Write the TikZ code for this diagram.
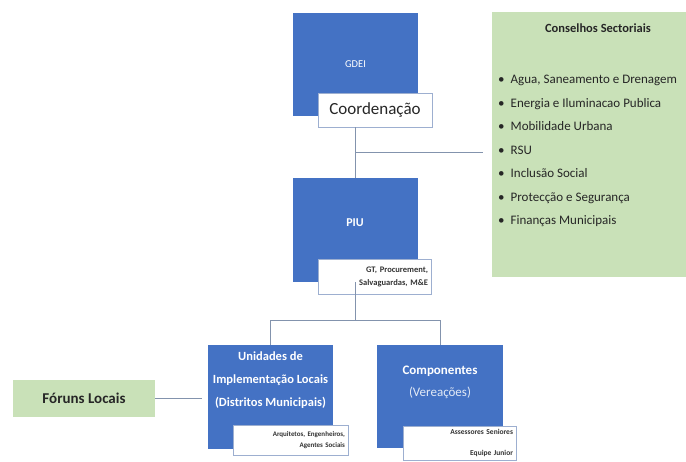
\documentclass[tikz,border=0pt]{standalone}
\usepackage{fontspec}
\setmainfont{Carlito}
\usetikzlibrary{positioning}

\definecolor{unitblue}{HTML}{4472C4}
\definecolor{forumgreen}{HTML}{C9E1B8}
\definecolor{linkgray}{HTML}{8393AD}
\definecolor{tagedge}{HTML}{9DAFD0}

\begin{document}
\begin{tikzpicture}[x=1pt,y=-1pt]
    \tikzset{
        unitbox/.style={fill=unitblue,text=white,align=center,inner sep=0pt,
            minimum width=125pt,minimum height=103pt},
        tagbox/.style={draw=tagedge,fill=white,align=right,inner sep=2pt,
            line width=0.8pt},
        greenbox/.style={fill=forumgreen,inner sep=0pt},
        link/.style={draw=linkgray,line width=1pt}
    }
    \useasboundingbox (0,0) rectangle (686,461);

    % top level
    \node[unitbox,font=\fontsize{10.5}{12}\selectfont] (gdei) at (355.5,64) {GDEI};
    \node[tagbox,align=center,minimum width=114pt,minimum height=34pt,
        font=\fontsize{17}{20}\selectfont,text=black!85] (coord) at (375,110)
        {Coordenação};

    \node[greenbox,minimum width=212pt,minimum height=265pt] (cons) at (598,144.5) {};
    \node[font=\fontsize{12.5}{15}\bfseries\selectfont,text=black!85,anchor=north]
        (constitle) at (598,20) {Conselhos Sectoriais};
    \node[anchor=north west,align=left,inner sep=0pt,text=black!85,
        font=\fontsize{13}{23.5}\selectfont] (conslist) at (498,75)
        {\textbullet\hspace{6pt}Agua, Saneamento e Drenagem\\
         \textbullet\hspace{6pt}Energia e Iluminacao Publica\\
         \textbullet\hspace{6pt}Mobilidade Urbana\\
         \textbullet\hspace{6pt}RSU\\
         \textbullet\hspace{6pt}Inclusão Social\\
         \textbullet\hspace{6pt}Protecção e Segurança\\
         \textbullet\hspace{6pt}Finanças Municipais};

    % PIU
    \node[unitbox,minimum height=104pt,font=\fontsize{12}{14}\bfseries\selectfont,
        text depth=14pt] (piu) at (355,230) {PIU};
    \node[tagbox,minimum width=113pt,minimum height=35pt,text width=107pt,
        font=\fontsize{8.5}{13}\bfseries\selectfont,text=black!80] (piutag) at (374.5,276.5)
        {GT, Procurement,\\Salvaguardas, M\&E};

    \coordinate (j) at (355,152);
    \draw[link] (coord.south -| piu.north) -- (piu.north);
    \draw[link] (j) -- ([xshift=-9pt]cons.west |- j);

    % lower level
    \node[unitbox,minimum height=104pt,text depth=36pt,
        font=\fontsize{12.5}{23}\bfseries\selectfont] (unid) at (270.5,397)
        {Unidades de\\Implementação Locais\\(Distritos Municipais)};
    \node[tagbox,minimum width=115pt,minimum height=30pt,text width=109pt,
        font=\fontsize{7}{11}\bfseries\selectfont,text=black!80] (unitag) at (290.5,440)
        {Arquitetos, Engenheiros,\\Agentes Sociais};

    \node[unitbox,minimum width=126pt,text depth=30pt,
        font=\fontsize{13}{22}\selectfont] (comp) at (440,396.5)
        {\textbf{Componentes}\\\textcolor{white!85!unitblue}{(Vereações)}};
    \node[tagbox,minimum width=113pt,minimum height=34pt,text width=107pt,
        font=\fontsize{7.5}{21}\bfseries\selectfont,text=black!80] (comptag) at (459.5,443)
        {Assessores Seniores\\Equipe Junior};

    \node[greenbox,minimum width=142pt,minimum height=37pt,text=black!85,
        font=\fontsize{15}{18}\bfseries\selectfont] (forum) at (84,398.5) {Fóruns Locais};

    \draw[link] (piu.south) -- ++(0,38) coordinate (split);
    \draw[link] (split) -| (unid.north);
    \draw[link] (split) -| (comp.north);
    \draw[link] (forum.east) -- ([xshift=-6pt]forum.east -| unid.west);
\end{tikzpicture}
\end{document}
